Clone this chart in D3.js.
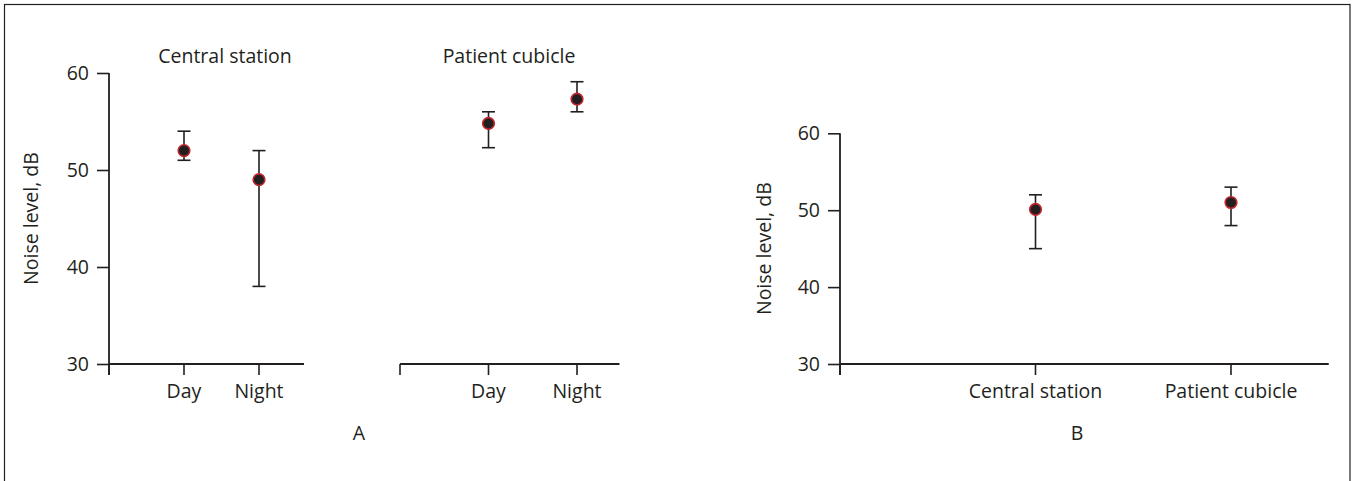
<!DOCTYPE html>
<html>
<head>
<meta charset="utf-8">
<script src="https://cdn.jsdelivr.net/npm/d3@7"></script>
<style>
  body { margin: 0; background: #fff; }
  text { font-family: "Open Sans", "Noto Sans", sans-serif; fill: #231f20; }
</style>
</head>
<body>
<svg id="chart" width="1357" height="481"></svg>
<script>
// --- data ---
const timeCategories = ['Day', 'Night'];
const centralMean = [52, 49];
const centralLow = [51, 38];
const centralHigh = [54, 52];
const cubicleMean = [54.8, 57.3];
const cubicleLow = [52.3, 56];
const cubicleHigh = [56, 59.1];

const siteCategories = ['Central station', 'Patient cubicle'];
const siteMean = [50.1, 51];
const siteLow = [45, 48];
const siteHigh = [52, 53];

const yTicks = [30, 40, 50, 60];

const ink = '#231f20';
const dotStroke = '#c1272d';
const fs = 19.5;

const svg = d3.select('#chart');

// outer frame
svg.append('rect')
  .attr('x', 4.5).attr('y', 4.5)
  .attr('width', 1345.5).attr('height', 490)
  .attr('fill', 'none').attr('stroke', ink).attr('stroke-width', 1.2);

function drawYAxis(y, x0, labelX) {
  const g = svg.append('g').attr('transform', `translate(${x0},0)`);
  g.call(d3.axisLeft(y).tickValues(yTicks).tickSize(12).tickPadding(8).tickSizeOuter(0));
  g.select('.domain').remove();
  g.selectAll('.tick line').attr('stroke', ink).attr('stroke-width', 1.6);
  g.selectAll('.tick text').attr('font-size', fs).style('font-family', '"Open Sans", sans-serif').attr('fill', ink);
  // vertical line continues below the x axis like a tick
  g.append('line')
    .attr('x1', 0).attr('x2', 0)
    .attr('y1', y(60)).attr('y2', y(30) + 11)
    .attr('stroke', ink).attr('stroke-width', 1.8);
  const mid = (y(60) + y(30)) / 2;
  svg.append('text')
    .attr('transform', `translate(${labelX},${mid}) rotate(-90)`)
    .attr('text-anchor', 'middle')
    .attr('font-size', fs)
    .text('Noise level, dB');
}

function drawGroup(cats, mean, low, high, x, y, extent) {
  const g = svg.append('g');
  const base = y(30);
  // x axis line
  g.append('line')
    .attr('x1', x(0)).attr('x2', x(extent))
    .attr('y1', base).attr('y2', base)
    .attr('stroke', ink).attr('stroke-width', 1.8);
  // ticks including the origin one
  const tickIdx = [0].concat(cats.map((c, i) => i + 1));
  g.selectAll('line.xt').data(tickIdx).enter().append('line')
    .attr('class', 'xt')
    .attr('x1', d => x(d)).attr('x2', d => x(d))
    .attr('y1', base).attr('y2', base + 11)
    .attr('stroke', ink).attr('stroke-width', 1.6);
  g.selectAll('text.xl').data(cats).enter().append('text')
    .attr('class', 'xl')
    .attr('x', (d, i) => x(i + 1)).attr('y', base + 34)
    .attr('text-anchor', 'middle').attr('font-size', fs)
    .text(d => d);

  const pts = cats.map((c, i) => ({ i: i + 1, m: mean[i], lo: low[i], hi: high[i] }));
  // error bars
  g.selectAll('line.eb').data(pts).enter().append('line')
    .attr('class', 'eb')
    .attr('x1', d => x(d.i)).attr('x2', d => x(d.i))
    .attr('y1', d => y(d.lo)).attr('y2', d => y(d.hi))
    .attr('stroke', ink).attr('stroke-width', 1.6);
  ['lo', 'hi'].forEach(k => {
    g.selectAll('line.cap' + k).data(pts).enter().append('line')
      .attr('class', 'cap' + k)
      .attr('x1', d => x(d.i) - 6.5).attr('x2', d => x(d.i) + 6.5)
      .attr('y1', d => y(d[k])).attr('y2', d => y(d[k]))
      .attr('stroke', ink).attr('stroke-width', 1.6);
  });
  g.selectAll('circle').data(pts).enter().append('circle')
    .attr('cx', d => x(d.i)).attr('cy', d => y(d.m))
    .attr('r', 5.8)
    .attr('fill', ink)
    .attr('stroke', dotStroke).attr('stroke-width', 1.6);
}

// --- panel A ---
const yA = d3.scaleLinear().domain([30, 60]).range([364, 73]);
drawYAxis(yA, 109, 38);

const xA1 = d3.scaleLinear().domain([0, 1]).range([109, 184]);
drawGroup(timeCategories, centralMean, centralLow, centralHigh, xA1, yA, 2.6);
const xA2 = d3.scaleLinear().domain([0, 1]).range([400, 488.5]);
drawGroup(timeCategories, cubicleMean, cubicleLow, cubicleHigh, xA2, yA, 2.48);

svg.append('text').attr('x', 225).attr('y', 63).attr('text-anchor', 'middle')
  .attr('font-size', fs).text('Central station');
svg.append('text').attr('x', 509).attr('y', 63).attr('text-anchor', 'middle')
  .attr('font-size', fs).text('Patient cubicle');
svg.append('text').attr('x', 359).attr('y', 440).attr('text-anchor', 'middle')
  .attr('font-size', fs).text('A');

// --- panel B ---
const yB = d3.scaleLinear().domain([30, 60]).range([364, 133.3]);
drawYAxis(yB, 840, 771);
const xB = d3.scaleLinear().domain([0, 1]).range([840, 1035.5]);
drawGroup(siteCategories, siteMean, siteLow, siteHigh, xB, yB, 2.5);
svg.append('text').attr('x', 1077).attr('y', 440).attr('text-anchor', 'middle')
  .attr('font-size', fs).text('B');
</script>
</body>
</html>
